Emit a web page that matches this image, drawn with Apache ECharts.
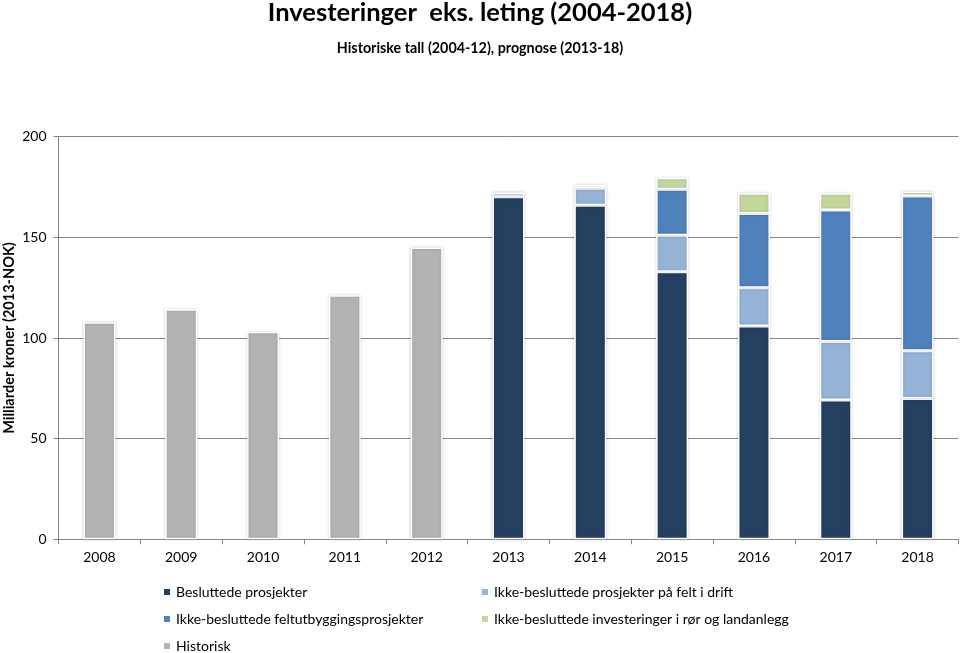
<!DOCTYPE html>
<html>
<head>
<meta charset="utf-8">
<script src="https://cdn.jsdelivr.net/npm/echarts@6/dist/echarts.min.js"></script>
<style>
html,body{margin:0;padding:0;background:#fff;}
#chart{width:960px;height:653px;}
</style>
</head>
<body>
<div id="chart"></div>
<script>
const categories = ['2008','2009','2010','2011','2012','2013','2014','2015','2016','2017','2018'];
const historisk   = [107.8, 114.3, 103.1, 121.2, 144.9, null, null, null, null, null, null];
const besluttede  = [null, null, null, null, null, 170.2, 165.9, 132.9, 106.0, 69.2, 70.0];
const feltIDrift  = [null, null, null, null, null, 1.7, 8.5, 18.1, 19.0, 29.0, 23.7];
const feltutbygg  = [null, null, null, null, null, 0, 1.3, 22.9, 36.9, 65.4, 76.8];
const rorLand     = [null, null, null, null, null, 0, 0, 5.7, 10.0, 8.3, 2.2];
const yTicks = [0, 50, 100, 150, 200];

const FONT = 'Lato, "Open Sans", sans-serif';
const names = {
  hist: 'Historisk',
  bes: 'Besluttede prosjekter',
  felt: 'Ikke-besluttede prosjekter på felt i drift',
  utb: 'Ikke-besluttede feltutbyggingsprosjekter',
  ror: 'Ikke-besluttede investeringer i rør og landanlegg'
};
function bar(name, data, color) {
  return {
    name: name, type: 'bar', stack: 'total', data: data, barWidth: 32,
    itemStyle: {
      color: color, borderColor: '#ffffff', borderWidth: 1.5,
      shadowColor: 'rgba(0,0,0,0.18)', shadowBlur: 3
    }
  };
}
const chart = echarts.init(document.getElementById('chart'));
chart.setOption({
  animation: false,
  backgroundColor: '#ffffff',
  title: [
    { text: 'Investeringer  eks. leting (2004-2018)', left: 'center', top: -5,
      textStyle: { fontFamily: FONT, fontSize: 25.5, fontWeight: 'bold', color: '#000' } },
    { text: 'Historiske tall (2004-12), prognose (2013-18)', left: 'center', top: 36,
      textStyle: { fontFamily: FONT, fontSize: 14.3, fontWeight: 'bold', color: '#000' } }
  ],
  legend: [
    { data: [names.bes, names.utb, names.hist], orient: 'vertical', left: 162, top: 585,
      padding: 0, itemWidth: 8, itemHeight: 8, itemGap: 13, icon: 'rect',
      textStyle: { fontFamily: FONT, fontSize: 14, color: '#000', lineHeight: 14 } },
    { data: [names.felt, names.ror], orient: 'vertical', left: 480, top: 585,
      padding: 0, itemWidth: 8, itemHeight: 8, itemGap: 13, icon: 'rect',
      textStyle: { fontFamily: FONT, fontSize: 14, color: '#000', lineHeight: 14 } }
  ],
  grid: { left: 58.5, right: 1.5, top: 136.7, bottom: 653 - 539.3, containLabel: false, outerBoundsMode: 'none' },
  xAxis: {
    type: 'category', data: categories,
    axisLine: { lineStyle: { color: '#868686' } },
    axisTick: { show: true, length: 5, lineStyle: { color: '#868686' } },
    axisLabel: { fontFamily: FONT, fontSize: 14, color: '#000', margin: 11 }
  },
  yAxis: {
    type: 'value', min: 0, max: 200, interval: 50,
    name: 'Milliarder kroner (2013-NOK)', nameLocation: 'middle', nameGap: 42,
    nameMoveOverlap: false,
    nameTextStyle: { fontFamily: FONT, fontSize: 14.5, fontWeight: 'bold', color: '#000' },
    axisLine: { show: true, lineStyle: { color: '#868686' } },
    axisTick: { show: true, length: 5, lineStyle: { color: '#868686' } },
    axisLabel: { fontFamily: FONT, fontSize: 14, color: '#000', margin: 12,
      formatter: function (v) { return yTicks.indexOf(v) >= 0 ? String(v) : ''; } },
    splitLine: { lineStyle: { color: '#868686' } }
  },
  series: [
    bar(names.hist, historisk, '#B3B3B3'),
    bar(names.bes, besluttede, '#243F60'),
    bar(names.felt, feltIDrift, '#95B3D7'),
    bar(names.utb, feltutbygg, '#4F81BD'),
    bar(names.ror, rorLand, '#C3D69B')
  ]
});
</script>
</body>
</html>
